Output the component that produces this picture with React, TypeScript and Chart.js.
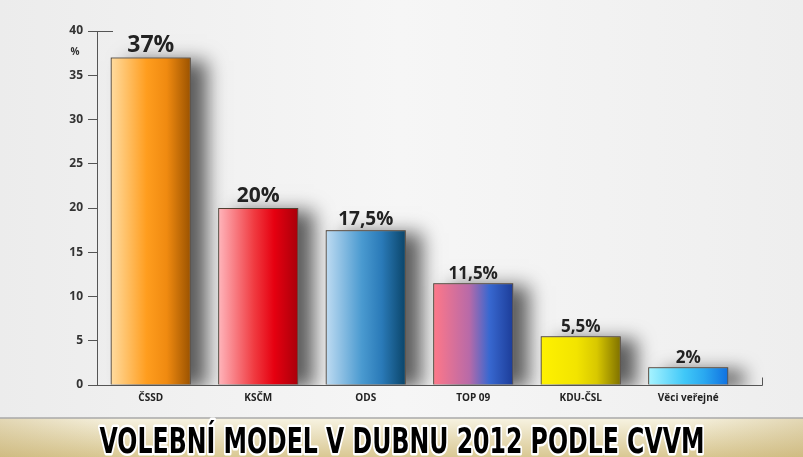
import React, { useEffect, useRef } from "react";
import { Chart, registerables } from "chart.js";

Chart.register(...registerables);

const categories = ["ČSSD", "KSČM", "ODS", "TOP 09", "KDU-ČSL", "Věci veřejné"];
const values = [37, 20, 17.5, 11.5, 5.5, 2];
const valueLabels = ["37%", "20%", "17,5%", "11,5%", "5,5%", "2%"];
const yTicks = [0, 5, 10, 15, 20, 25, 30, 35, 40];
const unitLabel = "%";
const titleText = "VOLEBNÍ MODEL V DUBNU 2012 PODLE CVVM";

// styles
const barGradients: string[][] = [
  ["#ffdca0", "#ff9d1e", "#f08a10", "#9a5200"],
  ["#ffb6bc", "#f03a40", "#e60010", "#a8000a"],
  ["#c0dcf2", "#4a9ad0", "#2a7ab8", "#0a4468"],
  ["#ff7888", "#b86aa8", "#3868d0", "#1c3c98"],
  ["#fff200", "#f2e400", "#d8c800", "#7e7000"],
  ["#a8f4ff", "#40c8f8", "#2aa8f0", "#1070e0"],
];
const labelSizes = [23, 21, 19, 17, 17, 17];
const BAR_FRACTION = 0.745;
const AXIS_EXTENSION = 20;

export default function App() {
  const ref = useRef<HTMLCanvasElement | null>(null);

  useEffect(() => {
    document.body.style.margin = "0";
    const canvas = ref.current;
    if (!canvas) return;

    const gradientFor = (ctx: any) => {
      const chart = ctx.chart;
      const x = chart.scales?.x;
      const i = ctx.dataIndex;
      if (!x || i === undefined) return "#999";
      const stops = barGradients[i % barGradients.length];
      const c = x.getPixelForValue(i);
      const half = (x.width / categories.length) * BAR_FRACTION / 2;
      if (!isFinite(c) || !isFinite(half) || half <= 0) return stops[1];
      const g = chart.ctx.createLinearGradient(c - half, 0, c + half, 0);
      g.addColorStop(0, stops[0]);
      g.addColorStop(0.45, stops[1]);
      g.addColorStop(0.7, stops[2]);
      g.addColorStop(1, stops[3]);
      return g;
    };

    const decor = {
      id: "decor",
      beforeDraw(chart: any) {
        const { ctx, width, height } = chart;
        ctx.save();
        const bg = ctx.createLinearGradient(0, 0, width, 0);
        bg.addColorStop(0, "#ececec");
        bg.addColorStop(0.5, "#f6f6f6");
        bg.addColorStop(1, "#eeeeee");
        ctx.fillStyle = bg;
        ctx.fillRect(0, 0, width, height);
        const bandTop = 418;
        const band = ctx.createLinearGradient(0, bandTop, 0, height);
        band.addColorStop(0, "#f7f3e2");
        band.addColorStop(1, "#d9c893");
        ctx.fillStyle = band;
        ctx.fillRect(0, bandTop, width, height - bandTop);
        const side = ctx.createLinearGradient(0, 0, width, 0);
        side.addColorStop(0, "rgba(190,165,100,0.35)");
        side.addColorStop(0.15, "rgba(190,165,100,0)");
        side.addColorStop(0.85, "rgba(190,165,100,0)");
        side.addColorStop(1, "rgba(190,165,100,0.35)");
        ctx.fillStyle = side;
        ctx.fillRect(0, bandTop, width, height - bandTop);
        ctx.strokeStyle = "#a8a8a8";
        ctx.lineWidth = 1.5;
        ctx.beginPath();
        ctx.moveTo(0, bandTop);
        ctx.lineTo(width, bandTop);
        ctx.stroke();

        // title
        ctx.font = "bold 35px 'DejaVu Sans', sans-serif";
        const w = ctx.measureText(titleText).width;
        const sx = 605 / w;
        ctx.translate(402, 453);
        ctx.scale(sx, 1);
        ctx.textAlign = "center";
        ctx.textBaseline = "alphabetic";
        ctx.strokeStyle = "#ffffff";
        ctx.lineWidth = 5;
        ctx.lineJoin = "round";
        ctx.strokeText(titleText, 0, 0);
        ctx.fillStyle = "#000";
        ctx.fillText(titleText, 0, 0);
        ctx.restore();
      },
      beforeDatasetsDraw(chart: any) {
        const ctx = chart.ctx;
        const meta = chart.getDatasetMeta(0);
        const area = chart.chartArea;
        ctx.save();
        ctx.beginPath();
        ctx.rect(area.left, area.top - 40, area.right - area.left + 40, area.bottom - area.top + 40);
        ctx.clip();
        ctx.shadowColor = "rgba(0,0,0,0.62)";
        ctx.shadowBlur = 18;
        ctx.shadowOffsetX = 16;
        ctx.shadowOffsetY = 3;
        ctx.fillStyle = "#888";
        meta.data.forEach((el: any) => {
          const half = el.width / 2;
          ctx.fillRect(el.x - half, el.y, el.width, el.base - el.y);
        });
        ctx.restore();
      },
      afterDatasetsDraw(chart: any) {
        const { ctx } = chart;
        const meta = chart.getDatasetMeta(0);
        const x = chart.scales.x;
        const y = chart.scales.y;
        ctx.save();
        ctx.fillStyle = "#222";
        ctx.textAlign = "center";
        ctx.textBaseline = "bottom";
        meta.data.forEach((el: any, i: number) => {
          ctx.font = `bold ${labelSizes[i]}px 'Open Sans', sans-serif`;
          ctx.fillText(valueLabels[i], el.x, el.y - 1);
        });
        ctx.font = "bold 10px 'Open Sans', sans-serif";
        ctx.fillStyle = "#333";
        ctx.textBaseline = "middle";
        ctx.fillText(unitLabel, y.left + 8, y.getPixelForValue(37.6));
        ctx.strokeStyle = "#555";
        ctx.lineWidth = 1;
        ctx.beginPath();
        const top = y.getPixelForValue(40);
        ctx.moveTo(x.left, top + 0.5);
        ctx.lineTo(x.left + 16, top + 0.5);
        const base = y.bottom + 0.5;
        const end = x.right + AXIS_EXTENSION;
        ctx.moveTo(x.right, base);
        ctx.lineTo(end + 0.5, base);
        ctx.lineTo(end + 0.5, base - 8);
        ctx.stroke();
        ctx.restore();
      },
    };

    const chart = new Chart(canvas, {
      type: "bar",
      data: {
        labels: categories,
        datasets: [
          {
            data: values,
            backgroundColor: gradientFor as any,
            borderColor: "rgba(60,40,20,0.75)",
            borderWidth: 1,
            barPercentage: BAR_FRACTION,
            categoryPercentage: 1,
          },
        ],
      },
      options: {
        animation: false,
        responsive: false,
        maintainAspectRatio: false,
        layout: { padding: { left: 67, right: 61, top: 31, bottom: 52 } },
        plugins: {
          legend: { display: false },
          tooltip: { enabled: false },
          title: { display: false, text: titleText },
        },
        scales: {
          x: {
            afterFit: (s: any) => {
              s.height = 20;
            },
            grid: { display: false, drawTicks: false },
            border: { display: true, color: "#555", width: 1 },
            ticks: {
              color: "#222",
              padding: 7,
              font: { family: "'Open Sans', sans-serif", size: 10, weight: "bold" },
            },
          },
          y: {
            min: 0,
            max: 40,
            afterFit: (s: any) => {
              s.width = 30;
            },
            afterBuildTicks: (s: any) => {
              s.ticks = yTicks.map((v) => ({ value: v }));
            },
            grid: { drawOnChartArea: false, drawTicks: true, tickLength: 9, color: "#555" },
            border: { display: true, color: "#555", width: 1 },
            ticks: {
              color: "#333",
              padding: 5,
              font: { family: "'Open Sans', sans-serif", size: 12, weight: "bold" },
            },
          },
        },
      },
      plugins: [decor],
    });

    return () => chart.destroy();
  }, []);

  return (
    <div style={{ position: "absolute", left: 0, top: 0, width: 803, height: 457 }}>
      <canvas ref={ref} width={803} height={457} style={{ width: 803, height: 457, display: "block" }} />
    </div>
  );
}
